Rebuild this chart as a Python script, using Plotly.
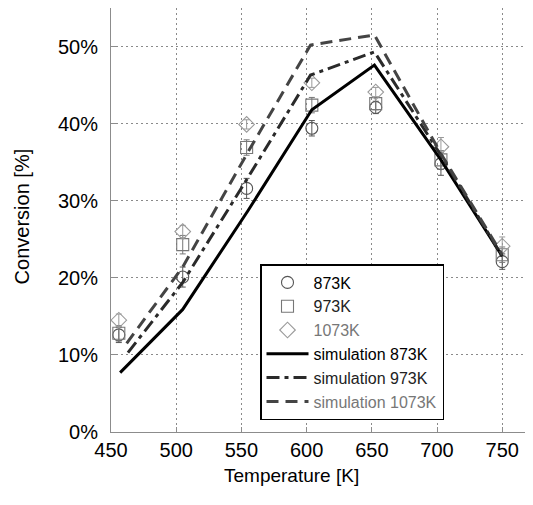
import plotly.graph_objects as go

# ---- data ----
T_exp = [456, 505, 554, 604, 653, 703, 750]
conv_873 = [12.6, 20.1, 31.6, 39.4, 42.1, 34.8, 22.1]
conv_973 = [12.8, 24.3, 36.9, 42.4, 42.6, 35.3, 23.0]
conv_1073 = [14.5, 26.0, 39.9, 45.3, 44.1, 37.0, 24.1]
err_873 = [1.0, 1.3, 1.3, 1.0, 0.8, 1.5, 1.0]
err_973 = [1.0, 1.2, 1.0, 1.0, 0.8, 1.2, 1.0]
err_1073 = [0.8, 0.8, 0.6, 0.6, 0.6, 1.2, 1.2]

T_sim_873 = [457, 505, 555, 604, 652, 703, 750]
sim_873 = [7.7, 15.9, 28.7, 41.8, 47.6, 35.3, 22.8]
T_sim_973 = [463, 505, 555, 603, 652, 703, 750]
sim_973 = [10.3, 19.4, 33.0, 46.3, 49.3, 35.9, 22.8]
T_sim_1073 = [462, 505, 555, 603, 652, 703, 750]
sim_1073 = [11.5, 21.4, 36.3, 50.2, 51.5, 36.1, 23.0]

x_ticks = [450, 500, 550, 600, 650, 700, 750]
y_ticks = [0, 10, 20, 30, 40, 50]
y_tick_labels = ["0%", "10%", "20%", "30%", "40%", "50%"]

FONT = "Liberation Sans, Arial, sans-serif"

fig = go.Figure()

def exp_trace(x, y, err, name, symbol, color, textcolor):
    return go.Scatter(
        x=x, y=y, mode="markers",
        name=f"<span style='color:{textcolor}'>{name}</span>",
        marker=dict(symbol=symbol, size=12, color=color,
                    line=dict(color=color, width=1.1)),
        error_y=dict(type="data", array=err, color=color, thickness=1, width=3),
    )

fig.add_trace(exp_trace(T_exp, conv_873, err_873, "873K", "circle-open", "#555555", "#000000"))
fig.add_trace(exp_trace(T_exp, conv_973, err_973, "973K", "square-open", "#777777", "#222222"))
fig.add_trace(exp_trace(T_exp, conv_1073, err_1073, "1073K", "diamond-open", "#9a9a9a", "#777777"))

fig.add_trace(go.Scatter(x=T_sim_873, y=sim_873, mode="lines",
                         name="simulation 873K",
                         line=dict(color="#000000", width=3)))
fig.add_trace(go.Scatter(x=T_sim_973, y=sim_973, mode="lines",
                         name="<span style='color:#222222'>simulation 973K</span>",
                         line=dict(color="#2a2a2a", width=3, dash="13px,5px,4px,5px")))
fig.add_trace(go.Scatter(x=T_sim_1073, y=sim_1073, mode="lines",
                         name="<span style='color:#777777'>simulation 1073K</span>",
                         line=dict(color="#444444", width=3, dash="12px,7px")))

axis_common = dict(
    showgrid=True, gridcolor="#8a8a8a", griddash="2px,3px", gridwidth=1,
    showline=True, linecolor="#8c8c8c", linewidth=1,
    ticks="inside", ticklen=5, tickcolor="#8c8c8c",
    tickfont=dict(family=FONT, size=20, color="#000000"),
    zeroline=False,
)

fig.update_xaxes(range=[450, 773.6], tickvals=x_ticks, mirror=True, **axis_common)
fig.update_yaxes(range=[0, 55], tickvals=y_ticks, ticktext=y_tick_labels,
                 ticklabelstandoff=8, **axis_common)

# page body has an 8px margin; plot area is placed so it lands at x 111..533, y 8..432
fig.add_annotation(text="Temperature [K]", xref="paper", yref="paper",
                   x=(291.5 - 111) / 422, y=-(475.7 - 432) / 424,
                   xanchor="center", yanchor="middle", showarrow=False,
                   font=dict(family=FONT, size=19, color="#000000"))
fig.add_annotation(text="Conversion [%]", xref="paper", yref="paper",
                   x=-(111 - 21.7) / 422, y=(432 - 216.7) / 424,
                   xanchor="center", yanchor="middle", showarrow=False, textangle=-90,
                   font=dict(family=FONT, size=20, color="#000000"))

fig.update_layout(
    width=525, height=497,
    margin=dict(l=103, r=0, t=0, b=73),
    paper_bgcolor="white", plot_bgcolor="white",
    showlegend=True,
    legend=dict(x=(260 - 111) / 422, y=(432 - 264) / 424, xanchor="left", yanchor="top",
                bgcolor="white", bordercolor="#000000", borderwidth=1.5, itemwidth=42,
                font=dict(family=FONT, size=16, color="#000000")),
    font=dict(family=FONT),
)

fig.write_html("out.html")
